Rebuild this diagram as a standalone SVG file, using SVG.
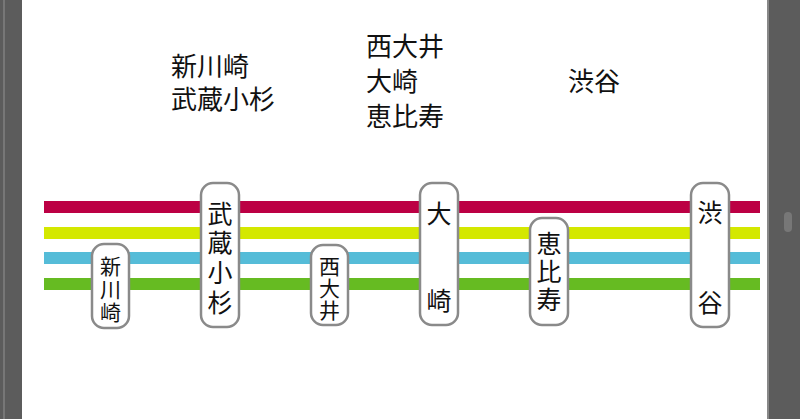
<svg xmlns="http://www.w3.org/2000/svg" width="800" height="419" viewBox="0 0 800 419">
<style>
.t{font-family:"Noto Sans CJK JP",sans-serif;font-size:26px;fill:#111}
.p{font-family:"Noto Sans CJK JP",sans-serif;font-size:21px;fill:#111;text-anchor:middle}
.q{font-family:"Noto Sans CJK JP",sans-serif;font-size:25px;fill:#111;text-anchor:middle}
.pill{fill:#fff;stroke:#8a8a8a;stroke-width:2.5}
</style>
<rect width="800" height="419" fill="#fff"/>
<rect x="0" y="0" width="22" height="419" fill="#5c5c5c"/>
<rect x="3" y="0" width="2" height="419" fill="#777"/>
<rect x="767" y="0" width="33" height="419" fill="#5c5c5c"/>
<rect x="767" y="0" width="2" height="419" fill="#888"/>
<rect x="784" y="212" width="8" height="20" rx="4" fill="#777"/>
<g id="connectors">
<rect x="44" y="201" width="716" height="12" fill="#bc0044"/>
<rect x="44" y="227" width="716" height="12" fill="#d4e800"/>
<rect x="44" y="252" width="716" height="12" fill="#55bcd8"/>
<rect x="44" y="278" width="716" height="12" fill="#66bb22"/>
</g>
<g id="labels">
<text class="t" x="171" y="76">新川崎</text>
<text class="t" x="171" y="109">武蔵小杉</text>
<text class="t" x="366" y="56">西大井</text>
<text class="t" x="366" y="91">大崎</text>
<text class="t" x="366" y="126">恵比寿</text>
<text class="t" x="568" y="91">渋谷</text>
</g>
<g id="n1"><rect class="pill" x="92" y="244" width="37" height="84" rx="12"/><text class="p" x="110.5" y="274">新</text><text class="p" x="110.5" y="297">川</text><text class="p" x="110.5" y="320">崎</text></g>
<g id="n2"><rect class="pill" x="201" y="183" width="38" height="144" rx="12"/><text class="q" x="220" y="223">武</text><text class="q" x="220" y="252">蔵</text><text class="q" x="220" y="282">小</text><text class="q" x="220" y="312">杉</text></g>
<g id="n3"><rect class="pill" x="311" y="245" width="37" height="80" rx="12"/><text class="p" x="329.5" y="274">西</text><text class="p" x="329.5" y="296">大</text><text class="p" x="329.5" y="318">井</text></g>
<g id="n4"><rect class="pill" x="420" y="183" width="38" height="142" rx="12"/><text class="q" x="439" y="223">大</text><text class="q" x="439" y="310">崎</text></g>
<g id="n5"><rect class="pill" x="530" y="218" width="38" height="107" rx="12"/><text class="q" x="549" y="253">恵</text><text class="q" x="549" y="281">比</text><text class="q" x="549" y="309">寿</text></g>
<g id="n6"><rect class="pill" x="691" y="183" width="38" height="144" rx="12"/><text class="q" x="710" y="222">渋</text><text class="q" x="710" y="312">谷</text></g>
</svg>
